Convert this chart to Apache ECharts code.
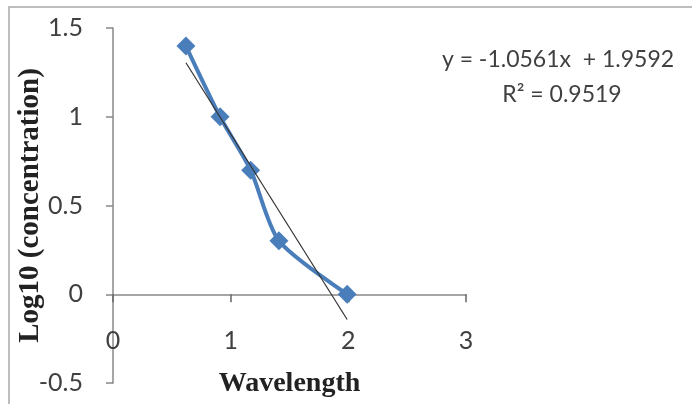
<!DOCTYPE html>
<html><head><meta charset="utf-8">
<script src="https://cdn.jsdelivr.net/npm/echarts@6/dist/echarts.min.js"></script>
<style>html,body{margin:0;padding:0;background:#fff}#c{width:692px;height:404px}</style>
</head><body><div id="c"></div>
<script>
var xValues = [0.62, 0.91, 1.17, 1.41, 1.99];
var yValues = [1.398, 1.0, 0.699, 0.301, 0.0];
var trendSlope = -1.0561;
var trendIntercept = 1.9592;
var equationText = 'y = -1.0561x  + 1.9592';
var r2Text = 'R² = 0.9519';
var xTicks = [0, 1, 2, 3];
var yTicks = [-0.5, 0, 0.5, 1, 1.5];

var points = xValues.map(function(x, i){ return [x, yValues[i]]; });
var xMin = Math.min.apply(null, xValues), xMax = Math.max.apply(null, xValues);
var trend = [[xMin, trendSlope * xMin + trendIntercept], [xMax, trendSlope * xMax + trendIntercept]];

var xRange = {type: 'value', min: xTicks[0], max: xTicks[xTicks.length-1], interval: 1, splitLine: {show: false}};
var chart = echarts.init(document.getElementById('c'));
chart.setOption({
  animation: false,
  backgroundColor: '#fff',
  grid: {left: 113, top: 28, right: 226, bottom: 21, containLabel: false, outerBoundsMode: 'none'},
  xAxis: [
    Object.assign({}, xRange, {
      axisLine: {onZero: true, lineStyle: {color: '#888', width: 1.5}},
      axisTick: {show: true, length: 8, lineStyle: {color: '#666', width: 1.5}},
      axisLabel: {show: false}
    }),
    Object.assign({}, xRange, {
      position: 'bottom', offset: -58,
      axisLine: {show: false}, axisTick: {show: false},
      axisLabel: {margin: 3, fontSize: 25, color: '#404040', fontFamily: 'Lato'},
      name: 'Wavelength', nameLocation: 'middle', nameGap: 45, nameMoveOverlap: false,
      nameTextStyle: {fontSize: 28, fontWeight: 'bold', fontFamily: 'Liberation Serif', color: '#222'}
    })
  ],
  yAxis: {
    type: 'value', min: yTicks[0], max: yTicks[yTicks.length-1], interval: 0.5,
    axisLine: {show: true, onZero: false, lineStyle: {color: '#888', width: 1.5}},
    axisTick: {show: true, length: 7, lineStyle: {color: '#888', width: 1.5}},
    splitLine: {show: false},
    axisLabel: {margin: 30, fontSize: 25, color: '#404040', fontFamily: 'Lato'},
    name: 'Log10 (concentration)', nameLocation: 'middle', nameGap: 68, nameRotate: 90, nameMoveOverlap: false,
    nameTextStyle: {fontSize: 29, fontWeight: 'bold', fontFamily: 'Liberation Serif', color: '#222'}
  },
  graphic: [
    {type: 'rect', shape: {x: 9, y: 7, width: 700, height: 420}, style: {fill: 'none', stroke: '#a8a8a8', lineWidth: 1.5}, z: -1},
    {type: 'text', x: 558, y: 60, style: {text: equationText, fontSize: 23, fontFamily: 'Lato', fill: '#404040', textAlign: 'center', textVerticalAlign: 'middle'}},
    {type: 'text', x: 562, y: 95, style: {text: r2Text, fontSize: 23, fontFamily: 'Lato', fill: '#404040', textAlign: 'center', textVerticalAlign: 'middle'}}
  ],
  series: [
    {type: 'line', data: points, smooth: 0.25, symbol: 'diamond', symbolSize: 19,
     lineStyle: {color: '#4a7ebb', width: 4}, itemStyle: {color: '#4a7ebb'}, z: 2},
    {type: 'line', data: trend, symbol: 'none', lineStyle: {color: '#333', width: 1.2}, z: 3}
  ]
});
</script></body></html>
